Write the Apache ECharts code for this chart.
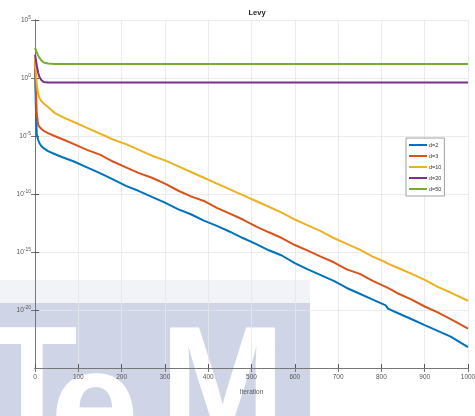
<!DOCTYPE html>
<html><head><meta charset="utf-8">
<script src="https://cdn.jsdelivr.net/npm/echarts@6/dist/echarts.min.js"></script>
<style>html,body{margin:0;padding:0;background:#fff}#c{width:475px;height:416px}</style>
</head><body><div id="c"></div>
<script>
const titleText = 'Levy';
const xTicks = [0,100,200,300,400,500,600,700,800,900,1000];
const iterations = [0,2,4,7,10,15,20,30,45,65,90,120,150,180,210,240,270,300,330,360,390,420,450,480,510,540,570,600,630,660,690,720,750,780,810,815,840,870,900,930,960,1000];
const seriesNames = ['d=2','d=3','d=10','d=20','d=50'];
const cost_d2 = [6.3,3.2e-3,1.6e-5,5e-6,2.5e-6,1.3e-6,8.9e-7,5e-7,2.8e-7,1.4e-7,6.3e-8,2e-8,6.3e-9,1.8e-9,5e-10,1.8e-10,5.6e-11,1.8e-11,5e-12,1.8e-12,5e-13,1.8e-13,5.6e-14,1.6e-14,5e-15,1.4e-15,5e-16,1.1e-16,3.2e-17,1e-17,3.2e-18,7.9e-19,2.5e-19,7.9e-20,2.5e-20,1.3e-20,5e-21,1.6e-21,5e-22,1.6e-22,5e-23,6.3e-24];
const cost_d3 = [32,0.1,1e-3,1e-4,6.3e-5,4e-5,2.8e-5,1.8e-5,1e-5,5e-6,2e-6,6.3e-7,2.5e-7,6.3e-8,2e-8,6.3e-9,2.5e-9,7.9e-10,2e-10,6.3e-11,2.5e-11,6.3e-12,2e-12,6.3e-13,1.6e-13,5e-14,1.6e-14,4e-15,1.3e-15,4e-16,1.3e-16,3.2e-17,1.3e-17,3.2e-18,1e-18,7.9e-19,2.5e-19,7.9e-20,2e-20,6.3e-21,1.6e-21,2.5e-22];
const cost_d10 = [63,4,0.32,0.05,0.02,0.01,6.3e-3,3.2e-3,1e-3,4e-4,1.6e-4,5e-5,1.6e-5,5e-6,2e-6,6.3e-7,2e-7,7.9e-8,2.5e-8,7.9e-9,2.5e-9,7.9e-10,2.5e-10,7.9e-11,2.5e-11,7.9e-12,2.5e-12,6.3e-13,2e-13,6.3e-14,1.6e-14,5e-15,1.6e-15,4e-16,1.3e-16,1e-16,4e-17,1.3e-17,4e-18,1e-18,3.2e-19,6.3e-20];
const cost_d20 = [100,40,12.6,3.16,1.26,0.63,0.45,0.40,0.40,0.40,0.40,0.40,0.40,0.40,0.40,0.40,0.40,0.40,0.40,0.40,0.40,0.40,0.40,0.40,0.40,0.40,0.40,0.40,0.40,0.40,0.40,0.40,0.40,0.40,0.40,0.40,0.40,0.40,0.40,0.40,0.40,0.40];
const cost_d50 = [398,251,158,89,56,32,22,18,16,16,16,16,16,16,16,16,16,16,16,16,16,16,16,16,16,16,16,16,16,16,16,16,16,16,16,16,16,16,16,16,16,16];
const colors = ['#0072BD','#D95319','#EDB120','#7E2F8E','#77AC30'];
const watermarkLetters = ['T','e','M'];

const allCosts = [cost_d2,cost_d3,cost_d10,cost_d20,cost_d50];
const chart = echarts.init(document.getElementById('c'), null, {renderer:'canvas'});
const font = 'Liberation Sans, Arial, sans-serif';
const yFmt = v => {
  const e = Math.round(Math.log10(v));
  return '{b|10}{s|' + e + '}';
};
const yRich = {b:{fontSize:6.5,color:'#555',fontFamily:font}, s:{fontSize:5,color:'#555',fontFamily:font,verticalAlign:'bottom',padding:[0,0,5,0]}};
const wmX = [-14, 50, 160];
const wmY = [390, 415, 390];
const wmSize = [150, 160, 150];
chart.setOption({
  animation:false,
  backgroundColor:'#fff',
  title:{text:titleText,left:252,top:4,textAlign:'center',textStyle:{fontSize:7.5,fontWeight:'bold',color:'#222',fontFamily:font}},
  grid:{left:35,right:7,top:20,bottom:48,containLabel:false,outerBoundsMode:'none'},
  legend:{data:seriesNames,orient:'vertical',left:406,top:138,itemWidth:18,itemHeight:2,itemGap:5,
    icon:'rect',borderColor:'#888',borderWidth:0.8,padding:[4,3,4,3],backgroundColor:'#fff',
    textStyle:{fontSize:5.5,color:'#333',fontFamily:font,padding:[0,0,0,-3]}},
  xAxis:[{type:'value',min:0,max:1000,interval:100,
    name:'Iteration',nameLocation:'middle',nameGap:21,nameTextStyle:{fontSize:6.5,color:'#555',fontFamily:font},
    axisLine:{lineStyle:{color:'#333',width:1}},axisTick:{inside:true,length:4,lineStyle:{color:'#555'}},
    axisLabel:{fontSize:6.5,color:'#555',margin:6,fontFamily:font,formatter:v=>String(v),showMinLabel:true,showMaxLabel:true,hideOverlap:false},
    splitLine:{show:true,lineStyle:{color:'#e6e6e6',width:0.8}}},
    {type:'value',min:0,max:1000,interval:100,position:'top',axisLine:{lineStyle:{color:'#777'}},
     axisTick:{inside:true,length:4,lineStyle:{color:'#777'}},axisLabel:{show:false},splitLine:{show:false}}],
  yAxis:[{type:'log',logBase:10,min:9.99e-26,max:1e5,interval:5,
    name:'Best Cost',nameLocation:'middle',nameGap:20,nameTextStyle:{fontSize:7.5,fontWeight:'bold',color:'#333',fontFamily:font},
    axisLine:{show:true,lineStyle:{color:'#555'}},axisTick:{show:true,inside:true,length:4,lineStyle:{color:'#555'}},
    axisLabel:{formatter:yFmt,rich:yRich,margin:4,showMinLabel:true,showMaxLabel:true,hideOverlap:false},
    splitLine:{show:true,lineStyle:{color:'#e6e6e6',width:0.8}}},
    {type:'log',logBase:10,min:9.99e-26,max:1e5,interval:5,position:'right',
     axisLine:{show:true,lineStyle:{color:'#777'}},axisTick:{show:true,inside:true,length:4,lineStyle:{color:'#777'}},
     axisLabel:{show:false},splitLine:{show:false}}],
  series: seriesNames.map((n,i)=>({
    name:n,type:'line',showSymbol:false,symbol:'none',
    data: iterations.map((it,k)=>[it, allCosts[i][k]]),
    lineStyle:{width:2,color:colors[i]},itemStyle:{color:colors[i]}
  })),
  graphic:[
    {type:'rect',z:-10,silent:true,shape:{x:0,y:280,width:310,height:23},style:{fill:'#f2f3f6'}},
    {type:'rect',z:-10,silent:true,shape:{x:0,y:303,width:310,height:113},style:{fill:'#cfd5e7'}}
  ].concat(watermarkLetters.map((ch,i)=>({type:'text',z:-9,silent:true,x:wmX[i],y:wmY[i],
    style:{text:ch,fontSize:wmSize[i],fontWeight:'bold',fontFamily:'Liberation Sans, Arial',fill:'#ffffff',align:'left',verticalAlign:'middle'}})))
});
</script></body></html>
